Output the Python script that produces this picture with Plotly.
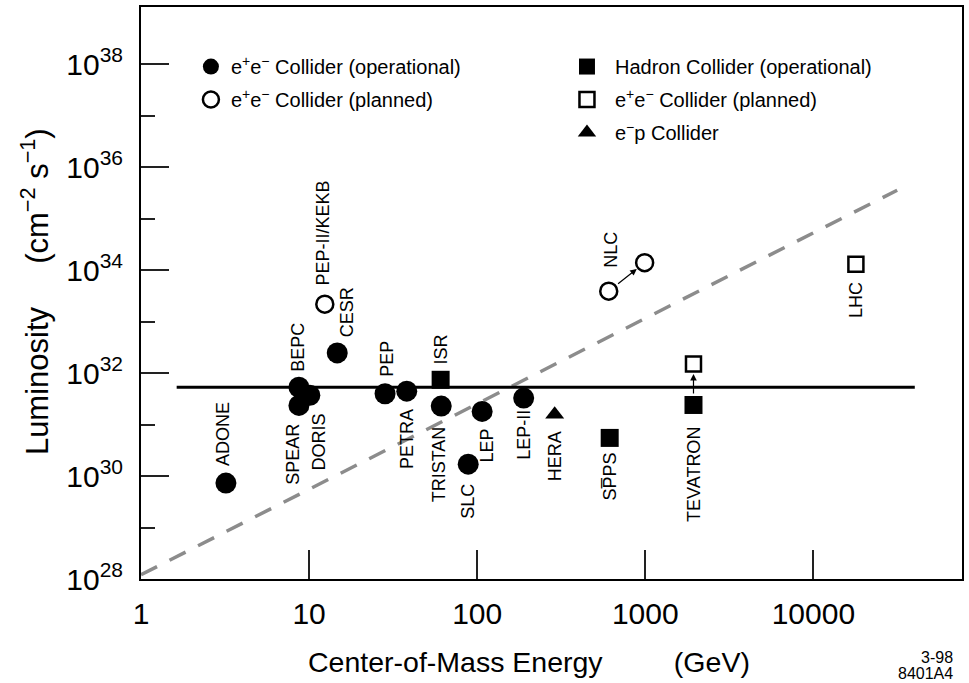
import math
import plotly.graph_objects as go

# ---------------- data ----------------
# e+e- colliders, operational
ee_op_names = ["ADONE", "SPEAR", "BEPC", "DORIS", "CESR", "PEP", "PETRA",
               "TRISTAN", "SLC", "LEP", "LEP-II"]
ee_op_energy = [3.2, 8.7, 8.7, 10.1, 14.7, 28.3, 38.1, 61.1, 88.4, 107, 189]
ee_op_lumi = [7.3e29, 2.35e31, 5.3e31, 3.7e31, 2.46e32, 3.96e31, 4.45e31,
              2.28e31, 1.7e30, 1.8e31, 3.26e31]

# e+e- colliders, planned
ee_plan_names = ["PEP-II/KEKB", "NLC", "NLC (upgrade)"]
ee_plan_energy = [12.4, 606, 991]
ee_plan_lumi = [2.18e33, 3.9e33, 1.39e34]

# hadron colliders, operational
had_op_names = ["ISR", "SPPS", "TEVATRON"]
had_op_energy = [60.6, 614, 1935]
had_op_lumi = [7.4e31, 5.5e30, 2.4e31]

# planned (open squares)
had_plan_names = ["TEVATRON (upgrade)", "LHC"]
had_plan_energy = [1935, 17900]
had_plan_lumi = [1.5e32, 1.3e34]

# e-p collider
ep_names = ["HERA"]
ep_energy = [289]
ep_lumi = [1.57e31]

# reference lines
flat_energy = [1.63, 40100]
flat_lumi = [5.3e31, 5.3e31]
trend_energy = [1.0, 31500]
trend_lumi = [1.21e28, 3.55e35]

# upgrade arrows: (from name, to name)
arrows = [("NLC", "NLC (upgrade)"), ("TEVATRON", "TEVATRON (upgrade)")]

x_tick_vals = [1, 10, 100, 1000, 10000]
x_tick_text = ["1", "10", "100", "1000", "10000"]
y_major_exp = [28, 30, 32, 34, 36, 38]
y_minor_exp = [29, 31, 33, 35, 37]

# ---------------- styling ----------------
FONT = "Liberation Sans, Arial, Helvetica, sans-serif"
label_text = {"SPPS": "SP\u0305PS"}
# (xshift px, distance px, side)
label_place = {
    "ADONE": (-3, 16, "above"), "SPEAR": (-6, 17, "below"),
    "DORIS": (9, 17, "below"), "BEPC": (-1, 15, "above"),
    "CESR": (10, 15, "above"), "PEP-II/KEKB": (-2, 18, "above"),
    "PEP": (2, 16, "above"), "PETRA": (0, 17, "below"),
    "ISR": (0, 14, "above"), "TRISTAN": (-2, 19, "below"),
    "SLC": (-1, 19, "below"), "LEP": (5, 16, "below"),
    "LEP-II": (0, 11, "below"), "HERA": (1, 16, "below"),
    "SPPS": (0, 14, "below"), "TEVATRON": (1, 21, "below"),
    "NLC": (2, 22, "above"), "LHC": (0, 17, "below"),
}

EEP = "e<sup>+</sup>e<sup>\u2212</sup>"

fig = go.Figure()

fig.add_trace(go.Scatter(x=trend_energy, y=trend_lumi, mode="lines",
                         line=dict(color="#8c8c8c", width=3.5, dash="18px,14px"),
                         showlegend=False, hoverinfo="skip"))
fig.add_trace(go.Scatter(x=flat_energy, y=flat_lumi, mode="lines",
                         line=dict(color="black", width=3),
                         showlegend=False, hoverinfo="skip"))

fig.add_trace(go.Scatter(x=ee_op_energy, y=ee_op_lumi, mode="markers", text=ee_op_names,
                         name=EEP + " Collider (operational)", legend="legend",
                         legendgroup="a",
                         marker=dict(symbol="circle", size=21, color="black",
                                     line=dict(width=0))))
fig.add_trace(go.Scatter(x=ee_plan_energy, y=ee_plan_lumi, mode="markers", text=ee_plan_names,
                         name=EEP + " Collider (planned)", legend="legend",
                         legendgroup="b",
                         marker=dict(symbol="circle", size=17, color="white",
                                     line=dict(width=2.5, color="black"))))
fig.add_trace(go.Scatter(x=had_op_energy, y=had_op_lumi, mode="markers", text=had_op_names,
                         name="Hadron Collider (operational)", legend="legend2",
                         legendgroup="c",
                         marker=dict(symbol="square", size=18, color="black",
                                     line=dict(width=0))))
fig.add_trace(go.Scatter(x=had_plan_energy, y=had_plan_lumi, mode="markers", text=had_plan_names,
                         name=EEP + " Collider (planned)", legend="legend2",
                         legendgroup="d",
                         marker=dict(symbol="square", size=15, color="white",
                                     line=dict(width=2.5, color="black"))))
fig.add_trace(go.Scatter(x=ep_energy, y=ep_lumi, mode="markers", text=ep_names,
                         name="e<sup>\u2212</sup>p Collider", legend="legend2",
                         legendgroup="e",
                         marker=dict(symbol="triangle-up", size=16.5, color="black",
                                     line=dict(width=0))))

# point labels
all_names = ee_op_names + ee_plan_names + had_op_names + had_plan_names + ep_names
all_e = ee_op_energy + ee_plan_energy + had_op_energy + had_plan_energy + ep_energy
all_l = ee_op_lumi + ee_plan_lumi + had_op_lumi + had_plan_lumi + ep_lumi
pos = {n: (e, l) for n, e, l in zip(all_names, all_e, all_l)}

annotations = []
for n, e, l in zip(all_names, all_e, all_l):
    if n not in label_place:
        continue
    xs, d, side = label_place[n]
    annotations.append(dict(
        x=math.log10(e), y=math.log10(l), xref="x", yref="y",
        text=label_text.get(n, n), textangle=-90, showarrow=False,
        font=dict(family=FONT, size=18, color="black"),
        xanchor="center", yanchor="bottom" if side == "above" else "top",
        xshift=xs, yshift=d if side == "above" else -d, borderpad=0))

for a, b in arrows:
    (e0, l0), (e1, l1) = pos[a], pos[b]
    annotations.append(dict(
        x=math.log10(e1), y=math.log10(l1), ax=math.log10(e0), ay=math.log10(l0),
        xref="x", yref="y", axref="x", ayref="y", text="", showarrow=True,
        arrowhead=2, arrowsize=1.1, arrowwidth=1.2, arrowcolor="black",
        standoff=10, startstandoff=10))

# axis titles and stamp
annotations.append(dict(x=0.4727, y=-0.1446, xref="paper", yref="paper",
                        text="Center-of-Mass Energy" + "\u00a0" * 9 + "(GeV)",
                        showarrow=False, xanchor="center", yanchor="middle",
                        font=dict(family=FONT, size=28.5, color="black")))
annotations.append(dict(x=-0.1288, y=0.502, xref="paper", yref="paper",
                        text="Luminosity" + "\u00a0" * 5 + "(cm<sup>\u22122</sup> s<sup>\u22121</sup>)",
                        textangle=-90, showarrow=False, xanchor="center", yanchor="middle",
                        font=dict(family=FONT, size=31, color="black")))
annotations.append(dict(x=0.9915, y=-0.1376, xref="paper", yref="paper", text="3-98",
                        showarrow=False, xanchor="right", yanchor="middle",
                        font=dict(family=FONT, size=16, color="black")))
annotations.append(dict(x=0.9915, y=-0.1655, xref="paper", yref="paper", text="8401A4",
                        showarrow=False, xanchor="right", yanchor="middle",
                        font=dict(family=FONT, size=16, color="black")))

fig.update_layout(
    width=969, height=683,
    margin=dict(l=141, r=5, t=5, b=104),
    paper_bgcolor="white", plot_bgcolor="white",
    font=dict(family=FONT, color="black"),
    annotations=annotations,
    legend=dict(x=0.0608, y=0.930, xanchor="left", yanchor="top",
                font=dict(family=FONT, size=20), bgcolor="rgba(0,0,0,0)",
                tracegroupgap=4, itemsizing="trace"),
    legend2=dict(x=0.5091, y=0.930, xanchor="left", yanchor="top",
                 font=dict(family=FONT, size=20), bgcolor="rgba(0,0,0,0)",
                 tracegroupgap=4, itemsizing="trace", itemwidth=46),
    xaxis=dict(type="log", range=[0, 4.884], showgrid=False, zeroline=False,
               showline=True, linecolor="black", linewidth=2, mirror=True,
               ticks="inside", ticklen=29, tickwidth=1.5, tickcolor="#222",
               tickvals=x_tick_vals, ticktext=x_tick_text, ticklabelstandoff=7,
               tickfont=dict(family=FONT, size=30, color="black")),
    yaxis=dict(type="log", range=[28, 39.11], showgrid=False, zeroline=False,
               showline=True, linecolor="black", linewidth=2, mirror=True,
               ticks="inside", ticklen=28, tickwidth=1.5, tickcolor="#222",
               tickvals=[10.0 ** k for k in y_major_exp],
               ticktext=["10<sup>%d</sup>" % k for k in y_major_exp],
               ticklabelstandoff=10,
               tickfont=dict(family=FONT, size=30, color="black"),
               minor=dict(tickvals=[10.0 ** k for k in y_minor_exp], ticks="inside",
                          ticklen=14, tickwidth=1.5, tickcolor="#222", showgrid=False)),
)

fig.write_html("out.html", config={"displayModeBar": False},
               post_script="document.body.style.margin='0';")
